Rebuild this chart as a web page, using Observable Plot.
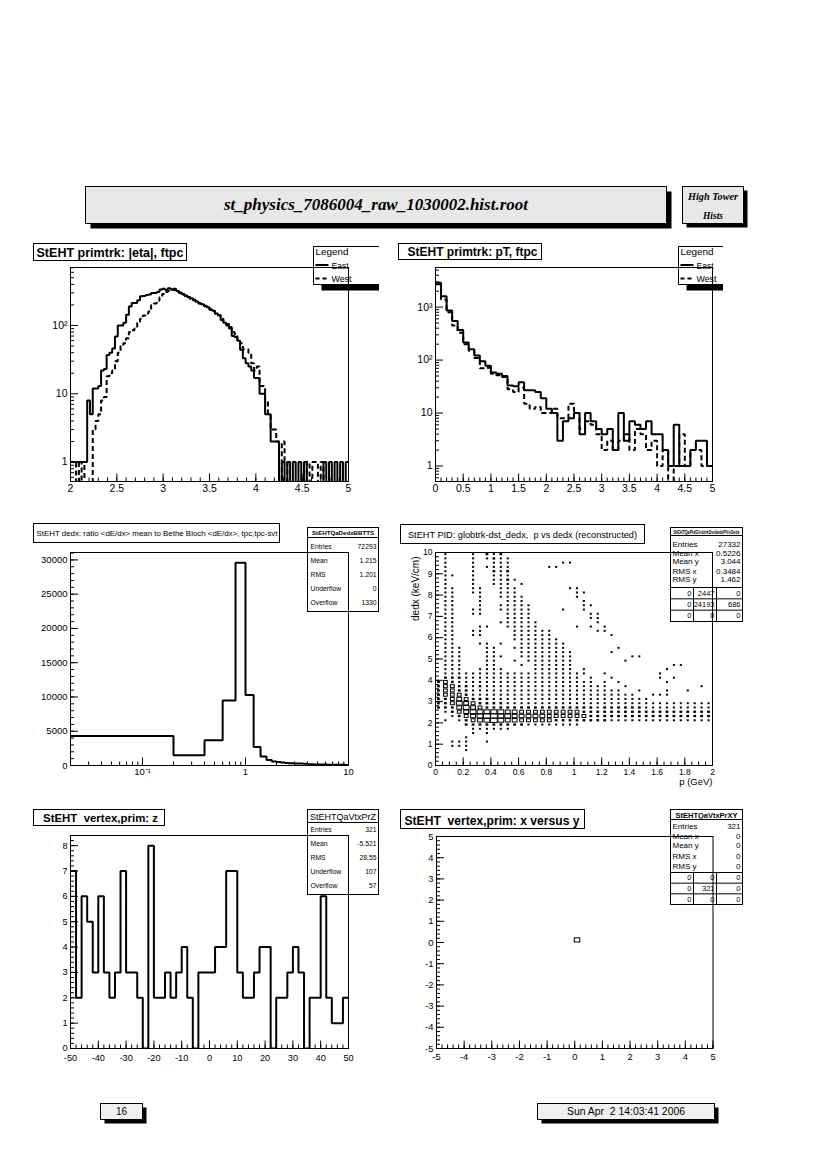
<!DOCTYPE html>
<html>
<head>
<meta charset="utf-8">
<script src="https://cdn.jsdelivr.net/npm/d3@7"></script>
<script src="https://cdn.jsdelivr.net/npm/@observablehq/plot@0.6"></script>
<style>
html,body{margin:0;padding:0;background:#fff;}
#page{position:relative;width:826px;height:1170px;overflow:hidden;background:#fff;}
</style>
</head>
<body>
<div id="page"></div>
<script>
// ================= DATA =================
// Panel 1: |eta| ftpc, 100 bins of 0.03 from 2.0
const etaLo = 2.0, etaBinWidth = 0.03;
const etaEast = [1,1,1,1,1,1,8,5,12,12, 13,22,23,37,40,46,69,100,100,110,
  144,190,214,214,235,267,270,280,285,300, 300,310,335,345,330,350,335,345,320,305,
  290,275,260,250,235,225,212,205,195,185, 170,165,150,140,120,110,100,90,70,68,
  60,44,33,28,25,22,17,17,10,10, 5,5,2,2,2,0,1,0,1,0,
  1,0,1,0,1,0,0,0,0,0, 0,1,0,1,0,1,0,1,0,1];
const etaWest = [0,0,1,0,1,0,0,0,3,4, 5,8,9,18,20,22,30,40,50,55,
  65,80,85,90,110,125,140,150,160,200, 210,230,260,290,310,320,335,330,315,300,
  285,270,262,245,238,222,210,200,192,180, 172,160,148,142,125,112,105,95,80,75,
  62,55,45,45,40,28,22,25,13,13, 8,5,3,3,2,0,2,1,0,0,
  0,0,0,0,0,1,0,1,1,0, 1,0,0,0,0,0,0,0,0,0];
// Panel 2: pT ftpc, 50 bins of 0.1 from 0
const ptLo = 0, ptBinWidth = 0.1;
const ptEast = [2900,1600,860,550,370,215,160,122,95,78, 58,55,50,33,32,38,27,27,25,19,
  12,10,3,7,8,10,4,10,7,5, 4,5,2,10,3,7,6,5,7,4, 4,2,1,6,1,1,2,3,3,1];
const ptWest = [2700,1400,800,450,330,200,150,110,70,72, 55,52,48,28,25,30,15,12,13,10,
  10,12,8,8,15,10,5,7,6,4, 2,3,2,3,4,2,5,4,2,3, 1,2,0,1,4,1,2,2,1,1];
// Panel 3: dE/dx ratio, 50 bins of 0.2 from 0
const dedxLo = 0, dedxBinWidth = 0.2;
const dedxRatio = [4300,1500,3700,9500,29600,10300,2700,1300,800,600,
  500,430,380,340,320,300,290,275,265,250, 180,172,166,160,152,150,146,138,135,131,
  128,124,122,120,117,115,112,110,108,105, 104,101,100,98,96,94,92,90,88,86];
const dedxStats = [["Entries","72293"],["Mean","1.215"],["RMS","1.201"],["Underflow","0"],["Overflow","1330"]];
// Panel 4: p vs dedx, 40 x 50 cells (p bins 0.05, dedx bins 0.2); rows listed from top (dedx 9.8-10) to bottom
// '.' empty, 1..6 = box size class
const pidPLo = 0, pidPBinWidth = 0.05, pidDedxLo = 0, pidDedxBinWidth = 0.2;
const pidRows = [
  ".1...1.212"+".........."+".........."+"..........",
  ".1...1.121"+"1........."+".........."+"..........",
  ".1...1..11"+"1.......11"+".........."+"..........",
  ".1...1.111"+"1.....11.."+".........."+"..........",
  ".1...1..21"+"2........."+".........."+"..........",
  ".11..1..11"+"1........."+".........."+"..........",
  ".1...1..11"+"21........"+".........."+"..........",
  ".1...1..11"+"1.1......."+".........."+"..........",
  ".11..11..1"+"11.......1"+"1........."+"..........",
  ".11..11..1"+"11........"+"11........"+"..........",
  ".11...1..1"+"111......."+"1........."+"..........",
  ".11...1..."+"111......."+".1........"+"..........",
  ".11...1..1"+"1111......"+".11......."+"..........",
  ".11..11..1"+"1111....1."+".1........"+"..........",
  ".11..11..."+"1111......"+"..11......"+"..........",
  ".11......."+"1111......"+"..11......"+"..........",
  ".11......1"+"11111....."+"...1......"+"..........",
  ".11...11.."+"11111....."+"1.1.1....."+"..........",
  ".11..11..."+".111111..."+"...11....."+"..........",
  ".11..11..."+".111111..."+".....1...."+"..........",
  ".11......."+".1111111.."+".........."+"..........",
  ".11...11.1"+"..1111111."+".........."+"..........",
  ".111...11."+".11111111."+"......1..."+"..........",
  ".111...11."+"..11111111"+".....1...."+"..........",
  ".111...111"+"..11111111"+"........11"+"..........",
  ".111...11."+".1.1111111"+".......1.."+"..........",
  ".111...11."+"..1.111111"+".........."+"....11....",
  ".111..1111"+"....111111"+".1........"+"...1......",
  ".111111111"+"1111111111"+"11..1....."+"..1.......",
  ".222111111"+"1111111111"+"1.1..1...."+"..1.1.....",
  "2321111111"+"1111111111"+"111.1.1..."+"...1......",
  "2332212111"+"1111111111"+"11111..1.."+"........1.",
  "2332211111"+"1111111111"+"1111111..1"+"...1..1...",
  "2333211111"+"1111111111"+"111111111."+".111......",
  "2234322211"+"1111111111"+"1111111111"+"1.........",
  "2235432222"+"1111111111"+"1111111111"+"1111111111",
  "2224543222"+"2222222222"+"2221222222"+"1111111111",
  ".123455555"+"4433333333"+"3222222222"+"2222222222",
  "..12345665"+"5444443333"+"3322222222"+"2222222222",
  ".1.1234565"+"4433333222"+"2222211111"+"1111111111",
  "....222222"+"2221111111"+"1........."+"..........",
  ".....11111"+"1........."+".........."+"..........",
  ".....1.1.."+".........."+".........."+"..........",
  "....1....."+".........."+".........."+"..........",
  "..111..1.."+".........."+".........."+"..........",
  "..111....."+".........."+".........."+"..........",
  "....1....."+".........."+".........."+"..........",
  "", "", ""
];
const pidStats = [["Entries","27332"],["Mean x","0.5226"],["Mean y","3.044"],["RMS x","0.3484"],["RMS y","1.462"]];
const pidGrid = [["0","2447","0"],["0","24193","686"],["0","0","0"]];
// Panel 5: vertex z, 50 bins of 2 from -50
const vzLo = -50, vzBinWidth = 2;
const vertexZ = [7,2,6,5,3,6,3,2,3,7, 3,3,2,0,8,2,2,3,2,3, 4,2,0,3,3,3,4,4,7,7,
  3,2,2,3,4,4,0,2,2,3, 4,3,0,2,2,6,2,1,1,2];
const vzStats = [["Entries","321"],["Mean","-5.521"],["RMS","28.55"],["Underflow","107"],["Overflow","57"]];
// Panel 6: vertex x vs y, bins of 0.2
const vxyBinWidth = 0.2;
const vxyCells = [{x: 0.1, y: 0.1, level: 6}];
const vxyStats = [["Entries","321"],["Mean x","0"],["Mean y","0"],["RMS x","0"],["RMS y","0"]];
const vxyGrid = [["0","0","0"],["0","321","0"],["0","0","0"]];
// tick labels
const etaTicks = [2, 2.5, 3, 3.5, 4, 4.5, 5];
const ptTicks = [0, 0.5, 1, 1.5, 2, 2.5, 3, 3.5, 4, 4.5, 5];
const logTicks2 = [1, 10, 100];
const logTicks3 = [1, 10, 100, 1000];
const dedxXTicks = [0.1, 1, 10];
const dedxYTicks = [0, 5000, 10000, 15000, 20000, 25000, 30000];
const pidXTicks = [0, 0.2, 0.4, 0.6, 0.8, 1, 1.2, 1.4, 1.6, 1.8, 2];
const pidYTicks = [0, 1, 2, 3, 4, 5, 6, 7, 8, 9, 10];
const vzXTicks = [-50, -40, -30, -20, -10, 0, 10, 20, 30, 40, 50];
const vzYTicks = [0, 1, 2, 3, 4, 5, 6, 7, 8];
const vxyTicks = [-5, -4, -3, -2, -1, 0, 1, 2, 3, 4, 5];

// ================= HELPERS =================
const SANS = "'Liberation Sans', Arial, Helvetica, sans-serif";
const SERIF = "'Liberation Serif', 'Times New Roman', serif";
const page = document.getElementById("page");
const NS = "http://www.w3.org/2000/svg";
const ov = document.createElementNS(NS, "svg");
ov.setAttribute("width", 826); ov.setAttribute("height", 1170);
ov.style.cssText = "position:absolute;left:0;top:0;z-index:1";
page.appendChild(ov);
function el(tag, attrs, txt) {
  const e = document.createElementNS(NS, tag);
  for (const k in attrs) e.setAttribute(k, attrs[k]);
  if (txt != null) e.textContent = txt;
  ov.appendChild(e); return e;
}
function box(x, y, w, h, fill = "#fff") { el("rect", {x, y, width: w, height: h, fill, stroke: "#000", "stroke-width": 1}); }
function shade(x, y, w, h) { el("rect", {x, y, width: w, height: h, fill: "#000"}); }
function line(x1, y1, x2, y2, extra = {}) { el("line", {x1, y1, x2, y2, stroke: "#000", "stroke-width": 1, ...extra}); }
function text(s, x, y, o = {}) {
  const a = {x, y, "font-family": o.family || SANS, "font-size": o.size || 8, "font-weight": o.weight || "normal",
    "font-style": o.style || "normal", "text-anchor": o.anchor || "start", fill: "#000"};
  if (o.len) { a.textLength = o.len; a.lengthAdjust = "spacingAndGlyphs"; }
  const e = el("text", a, s); e.style.whiteSpace = "pre"; return e;
}
const supFmt = d => d === 1 ? "1" : d === 10 ? "10" : d === 100 ? "10\u00B2" : d === 1000 ? "10\u00B3" : d === 0.1 ? "10\u207B\u00B9" : String(d);
function logMinor(lo, hi) { const out = []; for (let e = -3; e <= 4; e++) for (let m = 2; m <= 9; m++) { const v = m * Math.pow(10, e); if (v > lo && v < hi) out.push(v); } return out; }
function linMinor(lo, hi, step) { const out = []; const n = Math.floor((hi - lo) / step + 1e-6); for (let i = 0; i <= n; i++) out.push(+(lo + i * step).toFixed(6)); return out; }
function histLine(values, lo, w, floor, xMin, extra = {}) {
  const pts = [];
  values.forEach((v, i) => {
    const a = xMin != null ? Math.max(lo + i * w, xMin) : lo + i * w;
    const b = lo + (i + 1) * w;
    const y = v > 0 ? v : floor;
    pts.push({x: a, y}, {x: b, y});
  });
  return Plot.line(pts, {x: "x", y: "y", stroke: "#000", strokeWidth: 2, strokeLinejoin: "miter", strokeLinecap: "butt", clip: true, ...extra});
}
function axes(o) {
  const xPad = o.xPad ?? 10.5;
  return [
    Plot.axisX(o.xMinor, {anchor: "bottom", tickSize: -3.5, tickFormat: () => "", label: null}),
    Plot.axisX(o.xMajor, {anchor: "bottom", tickSize: -7.5, tickPadding: xPad, tickFormat: o.xFmt || (d => String(d)), label: null, fontSize: o.fs}),
    Plot.axisY(o.yMinor, {anchor: "left", tickSize: -4, tickFormat: () => "", label: null}),
    Plot.axisY(o.yMajor, {anchor: "left", tickSize: -8, tickPadding: 11, tickFormat: o.yFmt || (d => String(d)), label: null, fontSize: o.fs})
  ];
}
function panel(frame, xScale, yScale, marks) {
  const [x0, y0, x1, y1] = frame;
  const mL = 52, mR = 10, mT = 10, mB = 34;
  const svg = Plot.plot({
    width: x1 - x0 + mL + mR, height: y1 - y0 + mT + mB,
    marginLeft: mL, marginRight: mR, marginTop: mT, marginBottom: mB,
    x: {...xScale, label: null}, y: {...yScale, label: null},
    style: {background: "transparent", overflow: "visible", fontFamily: SANS, fontSize: "10px", color: "#000"},
    marks: [...marks, Plot.frame({stroke: "#000", strokeWidth: 1})]
  });
  svg.style.position = "absolute"; svg.style.left = (x0 - mL) + "px"; svg.style.top = (y0 - mT) + "px";
  svg.style.zIndex = 3; svg.style.maxWidth = "none";
  page.appendChild(svg);
}

// ================= PAGE HEADER / FOOTER =================
shade(90.5, 191.5, 581, 37); box(85.5, 186.5, 581, 37, "#e8e8e8");
text("st_physics_7086004_raw_1030002.hist.root", 376, 210, {family: SERIF, size: 17, weight: "bold", style: "italic", anchor: "middle", len: 304});
shade(686.5, 190.5, 61, 37); box(682.5, 186.5, 61, 37, "#e8e8e8");
text("High Tower", 713, 199.5, {family: SERIF, size: 9.5, weight: "bold", style: "italic", anchor: "middle", len: 50});
text("Hists", 713, 219, {family: SERIF, size: 9.5, weight: "bold", style: "italic", anchor: "middle"});
shade(104.5, 1107.5, 42, 16); box(100.5, 1103.5, 42, 16, "#f0f0f0");
text("16", 121.5, 1115, {size: 10, anchor: "middle"});
shade(541.5, 1107.5, 177, 16); box(537.5, 1103.5, 177, 16, "#f0f0f0");
text("Sun Apr  2 14:03:41 2006", 626, 1115, {size: 10, anchor: "middle", len: 118});

// ================= PANEL TITLES =================
box(33.5, 243.5, 153, 17);
text("StEHT primtrk: |eta|, ftpc", 36.5, 256.5, {size: 12.5, weight: "bold", len: 147});
box(398.5, 243.5, 143, 16);
text("StEHT primtrk: pT, ftpc", 407.5, 256, {size: 12.5, weight: "bold", len: 130});
box(33.5, 523.5, 246, 19);
text("StEHT dedx: ratio <dE/dx> mean to Bethe Bloch <dE/dx>, tpc,tpc-svt", 36.5, 535.5, {size: 7.5, len: 241});
box(400.5, 524.5, 244, 19);
text("StEHT PID: globtrk-dst_dedx,  p vs dedx (reconstructed)", 408, 537.5, {size: 9, len: 229});
box(33.5, 809.5, 131, 16);
text("StEHT  vertex,prim: z", 43, 821.5, {size: 11.5, weight: "bold", len: 115});
box(400.5, 809.5, 184, 19);
text("StEHT  vertex,prim: x versus y", 404.5, 824.5, {size: 12.5, weight: "bold", len: 175});

// ================= LEGENDS (clipped at pad edge) =================
function legend(x, clipR) {
  const top = 246.5, bot = 284.5;
  el("rect", {x, y: top, width: clipR - x, height: bot - top, fill: "#fff"});
  el("polyline", {points: `${clipR},${top} ${x},${top} ${x},${bot} ${clipR},${bot}`, fill: "none", stroke: "#000", "stroke-width": 1});
  shade(x + 8, bot + 0.5, clipR - x - 8, 5.5);
  text("Legend", x + 2, top + 8.5, {size: 9, len: 33});
  line(x + 2, 265, x + 15, 265, {"stroke-width": 2});
  text("East", x + 18, 268.5, {size: 9, len: 17});
  line(x + 2, 278.5, x + 15, 278.5, {"stroke-width": 2, "stroke-dasharray": "4,3"});
  text("West", x + 18, 282, {size: 9, len: 20});
}
legend(313.5, 379);
legend(678.5, 723);

// ================= STATS BOXES =================
function stats1D(x, y, w, h, headH, title, titleOpt, rows, rowY, size) {
  box(x, y, w, h);
  line(x, y + headH, x + w, y + headH);
  text(title, x + w / 2, y + headH - 2.5, {anchor: "middle", ...titleOpt});
  rows.forEach(([k, v], i) => {
    text(k, x + 3, rowY[i] + size * 0.35, {size});
    text(v, x + w - 2, rowY[i] + size * 0.35, {size, anchor: "end"});
  });
}
stats1D(307.5, 527.5, 71, 84, 10, "StEHTQaDedxBBTTS", {size: 6, weight: "bold", len: 62}, dedxStats, [547, 561, 575, 589, 603], 6.8);
stats1D(307.5, 809.5, 71, 85, 13, "StEHTQaVtxPrZ", {size: 8.5, len: 66}, vzStats, [830, 844, 858, 872, 886], 6.8);
function stats2D(x, y, w, headH, title, titleOpt, rows, rowY, grid, gridTop, gridH) {
  const h = gridTop + 3 * gridH - y;
  box(x, y, w, h);
  line(x, y + headH, x + w, y + headH);
  text(title, x + w / 2, y + headH - 2, {anchor: "middle", ...titleOpt});
  rows.forEach(([k, v], i) => {
    text(k, x + 2, rowY[i] + 2.8, {size: 8});
    text(v, x + w - 2, rowY[i] + 2.8, {size: 8, anchor: "end"});
  });
  const cx = [x, x + 23, x + 46, x + w];
  for (let r = 0; r < 3; r++) line(x, gridTop + r * gridH, x + w, gridTop + r * gridH);
  line(cx[1], gridTop, cx[1], gridTop + 3 * gridH); line(cx[2], gridTop, cx[2], gridTop + 3 * gridH);
  grid.forEach((row, r) => row.forEach((v, c) => text(v, cx[c + 1] - 2, gridTop + (r + 0.5) * gridH + 2.6, {size: 7.5, anchor: "end"})));
}
stats2D(670.5, 527.5, 72, 8, "StEHTQaPidGlobtrkDstdedxPVsDedx", {size: 4.6, weight: "bold", len: 66}, pidStats, [544, 553, 561, 571, 579], pidGrid, 587.5, 11.33);
stats2D(670.5, 809.5, 72, 10, "StEHTQaVtxPrXY", {size: 6.5, weight: "bold", len: 62}, vxyStats, [826.5, 836.5, 845.5, 856.5, 866.5], vxyGrid, 872.5, 10.67);

// ================= PANEL 1 =================
panel([70, 267, 348, 481], {domain: [2, 5]}, {type: "log", domain: [0.52, 706]}, [
  histLine(etaWest, etaLo, etaBinWidth, 0.2, null, {strokeDasharray: "5,3"}),
  histLine(etaEast, etaLo, etaBinWidth, 0.2, null),
  ...axes({xMajor: etaTicks, xMinor: linMinor(2, 5, 0.1), yMajor: logTicks2, yMinor: logMinor(0.52, 706), yFmt: supFmt, fs: 10.5})
]);
// ================= PANEL 2 =================
panel([435, 267, 712, 481], {domain: [0, 5]}, {type: "log", domain: [0.51, 5600]}, [
  histLine(ptWest, ptLo, ptBinWidth, 0.2, null, {strokeDasharray: "5,3"}),
  histLine(ptEast, ptLo, ptBinWidth, 0.2, null),
  ...axes({xMajor: ptTicks, xMinor: linMinor(0, 5, 0.1), yMajor: logTicks3, yMinor: logMinor(0.51, 5600), yFmt: supFmt, fs: 10.5})
]);
// ================= PANEL 3 =================
panel([70, 552, 348, 765], {type: "log", domain: [0.02, 10]}, {domain: [0, 31080]}, [
  histLine(dedxRatio, dedxLo, dedxBinWidth, 0, 0.019),
  ...axes({xMajor: dedxXTicks, xMinor: logMinor(0.02, 10).concat([0.02]), xFmt: supFmt, yMajor: dedxYTicks, yMinor: linMinor(0, 31000, 1000), fs: 9.5})
]);
// ================= PANEL 4 =================
const pidCells = [];
pidRows.forEach((row, r) => {
  const iy = pidRows.length - 1 - r;
  [...row.padEnd(40, ".").slice(0, 40)].forEach((ch, j) => {
    if (ch !== ".") pidCells.push({p: pidPLo + (j + 0.5) * pidPBinWidth, d: pidDedxLo + (iy + 0.5) * pidDedxBinWidth, level: +ch});
  });
});
const boxFracX = [0, 0.30, 0.40, 0.55, 0.70, 0.85, 1.0];
const boxFracY = [0, 0.45, 0.55, 0.70, 0.80, 0.90, 1.0];
const cellRect = (cells, w, h, fx, fy, extra) => Plot.rect(cells, {
  x1: c => (c.p ?? c.x) - fx[c.level] * w / 2, x2: c => (c.p ?? c.x) + fx[c.level] * w / 2,
  y1: c => (c.d ?? c.y) - fy[c.level] * h / 2, y2: c => (c.d ?? c.y) + fy[c.level] * h / 2, ...extra});
panel([435, 552, 712, 765], {domain: [0, 2]}, {domain: [0, 10]}, [
  cellRect(pidCells.filter(c => c.level <= 2), pidPBinWidth, pidDedxBinWidth, boxFracX, boxFracY, {fill: "#000"}),
  cellRect(pidCells.filter(c => c.level >= 3), pidPBinWidth, pidDedxBinWidth, boxFracX, boxFracY, {fill: "none", stroke: "#000", strokeWidth: 1}),
  ...axes({xMajor: pidXTicks, xMinor: linMinor(0, 2, 0.05), yMajor: pidYTicks, yMinor: linMinor(0, 10, 0.2), fs: 8.5}),
  Plot.text(["dedx (keV/cm)"], {text: d => d, frameAnchor: "top-left", rotate: -90, textAnchor: "end", dx: -23.5, dy: 4, fontSize: 10}),
  Plot.text(["p (GeV)"], {text: d => d, frameAnchor: "bottom-right", textAnchor: "end", dy: 19.5, fontSize: 9.5})
]);
// ================= PANEL 5 =================
panel([70, 835, 348, 1048], {domain: [-50, 50]}, {domain: [0, 8.4]}, [
  histLine(vertexZ, vzLo, vzBinWidth, 0, null),
  ...axes({xMajor: vzXTicks, xMinor: linMinor(-50, 50, 2), yMajor: vzYTicks, yMinor: linMinor(0, 8.4, 0.2), fs: 9.2, xPad: 13})
]);
// ================= PANEL 6 =================
panel([435.5, 836, 712, 1048], {domain: [-5, 5]}, {domain: [-5, 5]}, [
  cellRect(vxyCells, vxyBinWidth, vxyBinWidth, [0,0,0,0,0,0,1], [0,0,0,0,0,0,1], {fill: "none", stroke: "#000", strokeWidth: 1}),
  ...axes({xMajor: vxyTicks, xMinor: linMinor(-5, 5, 0.2), yMajor: vxyTicks, yMinor: linMinor(-5, 5, 0.2), fs: 9.4, xPad: 12})
]);
</script>
</body>
</html>
